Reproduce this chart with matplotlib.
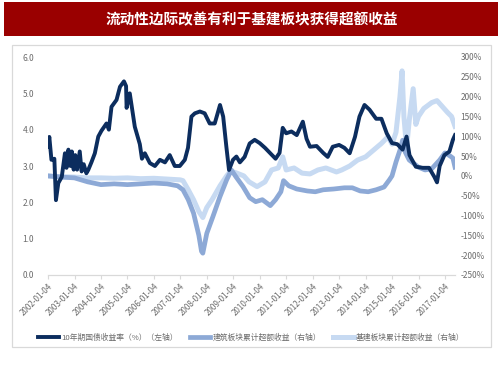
import matplotlib
matplotlib.use("Agg")
import matplotlib.pyplot as plt
from matplotlib.patches import Rectangle

plt.rcParams['font.family'] = ['Noto Sans CJK SC', 'DejaVu Sans']

title = "流动性边际改善有利于基建板块获得超额收益"
legend_labels = ["10年期国债收益率（%）（左轴）", "建筑板块累计超额收益（右轴）", "基建板块累计超额收益（右轴）"]
year_ticks = list(range(2002, 2018))
year_tick_labels = [f"{y}-01-04" for y in year_ticks]
left_ticks = [0, 1, 2, 3, 4, 5, 6]
right_ticks = [-250, -200, -150, -100, -50, 0, 50, 100, 150, 200, 250, 300]

# 10-year government bond yield (%), x in decimal years
yield_t = [2002.00, 2002.05, 2002.13, 2002.24, 2002.30, 2002.39, 2002.52, 2002.64, 2002.70, 2002.77,
           2002.85, 2002.90, 2002.97, 2003.03, 2003.10, 2003.20, 2003.27, 2003.35, 2003.45, 2003.52,
           2003.64, 2003.77, 2003.90, 2004.02,
           2004.21, 2004.30, 2004.40, 2004.59, 2004.72, 2004.87, 2004.95, 2004.97, 2005.09, 2005.28,
           2005.47, 2005.55, 2005.66, 2005.85, 2006.04, 2006.23, 2006.42, 2006.60, 2006.79, 2006.98,
           2007.17, 2007.29, 2007.42, 2007.55, 2007.74, 2007.92, 2008.11, 2008.30, 2008.43, 2008.50,
           2008.62, 2008.74, 2008.84, 2008.99, 2009.12, 2009.25, 2009.43, 2009.62, 2009.81, 2010.00,
           2010.20, 2010.40, 2010.60, 2010.75, 2010.87, 2011.00, 2011.20, 2011.40, 2011.63, 2011.77,
           2011.90, 2012.15, 2012.40, 2012.57, 2012.76, 2013.00, 2013.20, 2013.40, 2013.60, 2013.77,
           2013.96, 2014.15, 2014.40, 2014.60, 2014.80, 2015.00, 2015.20, 2015.40, 2015.55, 2015.66,
           2015.90, 2016.16, 2016.40, 2016.60, 2016.70, 2016.80, 2016.98, 2017.17, 2017.30, 2017.38]
yield_v = [3.53, 3.80, 3.17, 3.20, 2.06, 2.53, 2.70, 3.35, 2.95, 3.45,
           3.00, 3.40, 2.90, 3.30, 2.90, 3.40, 2.85, 3.05, 2.80, 2.89,
           3.10, 3.35, 3.81, 3.97,
           4.17, 4.00, 4.63, 4.82, 5.18, 5.33, 5.20, 4.60, 5.00, 4.08,
           3.60, 3.20, 3.35, 3.08, 3.00, 3.17, 3.10, 3.30, 3.00, 3.00,
           3.17, 3.50, 4.36, 4.45, 4.50, 4.45, 4.17, 4.17, 4.50, 4.68,
           4.36, 3.53, 2.89, 3.17, 3.26, 3.10, 3.25, 3.62, 3.72, 3.63,
           3.50, 3.35, 3.20, 3.36, 4.05, 3.90, 3.95, 3.85, 4.22, 3.75,
           3.53, 3.55, 3.36, 3.25, 3.53, 3.58, 3.50, 3.35, 3.80, 4.36,
           4.68, 4.55, 4.30, 4.30, 3.90, 3.63, 3.60, 3.45, 3.81, 3.30,
           2.98, 2.95, 2.95, 2.70, 2.55, 3.00, 3.30, 3.40, 3.72, 3.85]

# construction sector cumulative excess return (%)
jz_t = [2002.0, 2002.5, 2003.0, 2003.5, 2004.0, 2004.5, 2005.0, 2005.5, 2006.0, 2006.5,
        2006.9, 2007.1, 2007.3, 2007.5, 2007.7, 2007.8, 2007.85, 2008.0, 2008.23, 2008.5,
        2008.75, 2008.93, 2009.1, 2009.37, 2009.62, 2009.85, 2010.1, 2010.4, 2010.6, 2010.8,
        2010.9, 2011.1, 2011.4, 2011.8, 2012.1, 2012.4, 2012.8, 2013.2, 2013.5, 2013.8,
        2014.1, 2014.4, 2014.7, 2014.9, 2015.0, 2015.15, 2015.3, 2015.4, 2015.5, 2015.65,
        2015.85, 2016.0, 2016.25, 2016.5, 2016.8, 2017.0, 2017.2, 2017.3, 2017.38]
jz_v = [0, -3, -5, -15, -22, -20, -22, -20, -18, -20,
        -25, -35, -60, -94, -150, -190, -195, -145, -103, -52,
        -10, 15, -2, -27, -55, -65, -60, -75, -60, -40,
        -12, -25, -33, -38, -40, -35, -33, -30, -30, -38,
        -40, -35, -28, -10, 0, 35, 65, 90, 60, 40,
        30, 22, 15, 18, 40, 58, 50, 45, 22]

# infrastructure sector cumulative excess return (%)
jj_t = [2002.0, 2002.5, 2003.0, 2003.5, 2004.0, 2004.5, 2005.0, 2005.5, 2006.0, 2006.5,
        2007.0, 2007.1, 2007.3, 2007.5, 2007.7, 2007.85, 2008.0, 2008.2, 2008.5, 2008.75,
        2008.9, 2009.1, 2009.4, 2009.6, 2009.9, 2010.2, 2010.45, 2010.7, 2010.87, 2011.0,
        2011.3, 2011.6, 2011.9, 2012.2, 2012.5, 2012.9, 2013.1, 2013.4, 2013.7, 2014.0,
        2014.3, 2014.6, 2014.85, 2015.0, 2015.15, 2015.3, 2015.38, 2015.45, 2015.55, 2015.65,
        2015.8, 2015.9, 2016.0, 2016.2, 2016.5, 2016.7, 2016.9, 2017.1, 2017.25, 2017.38]
jj_v = [0, -2, -3, -5, -5, -6, -5, -7, -6, -8,
        -10, -12, -35, -60, -90, -105, -80, -60, -25, 0,
        12, 8, 0, -15, -27, -15, 15, 20, 48, 15,
        20, 7, 5, 15, 20, 10, 15, 25, 40, 48,
        65, 82, 99, 80, 110, 200, 265, 150, 70, 140,
        220, 130, 150, 170, 185, 190, 175, 160, 150, 125]

dark = '#0C2D5E'
medium = '#8DA9D6'
light = '#C7DAF2'
gray_txt = '#6B6B6B'
axis_gray = '#D9D9D9'

fig = plt.figure(figsize=(5.03, 3.78), dpi=100)
fig.patch.set_facecolor('white')

# title bar
fig.patches.append(Rectangle((4 / 503, 1 - 36 / 378), 494 / 503, 34 / 378,
                             transform=fig.transFigure, facecolor='#9A0000', edgecolor='none', zorder=0))
fig.text(0.5, 1 - 19 / 378, title, color='white', fontsize=10.5, fontweight='bold',
         ha='center', va='center')
# panel border
fig.patches.append(Rectangle((11.5 / 503, 1 - 347 / 378), 479.5 / 503, 302 / 378,
                             transform=fig.transFigure, facecolor='none', edgecolor=axis_gray, lw=0.9, zorder=0))

ax = fig.add_axes([48 / 503, 1 - 275 / 378, 407 / 503, 218 / 378])
ax2 = ax.twinx()

l1, = ax.plot(yield_t, yield_v, color=dark, lw=2.8, solid_joinstyle='round', zorder=3)
l2, = ax2.plot(jz_t, jz_v, color=medium, lw=3.4, solid_joinstyle='round', zorder=2)
l3, = ax2.plot(jj_t, jj_v, color=light, lw=3.6, solid_joinstyle='round', zorder=1)

ax.set_xlim(2002.0, 2017.38)
ax.set_ylim(0, 6)
ax2.set_ylim(-250, 300)

ax.set_yticks(left_ticks)
ax.set_yticklabels([f"{v:.1f}" for v in left_ticks])
ax2.set_yticks(right_ticks)
ax2.set_yticklabels([f"{v}%" for v in right_ticks])

ax.set_xticks([y + 0.003 for y in year_ticks])
ax.set_xticklabels(year_tick_labels, rotation=45, ha='right', rotation_mode='anchor')

for a in (ax, ax2):
    for s in ('top', 'left', 'right'):
        a.spines[s].set_visible(False)
    a.spines['bottom'].set_color(axis_gray)
    a.tick_params(axis='y', length=0, labelsize=6, labelcolor=gray_txt)
ax.tick_params(axis='y', pad=10)
ax2.tick_params(axis='y', pad=4)
ax.tick_params(axis='x', length=3, color=axis_gray, labelsize=5.8, labelcolor=gray_txt, pad=2)

# put the yield line on top of the twin axes
ax.set_zorder(ax2.get_zorder() + 1)
ax.patch.set_visible(False)

fig.legend([l1, l2, l3], legend_labels, loc='center', bbox_to_anchor=(0.5, 1 - 338 / 378),
           ncol=3, frameon=False, fontsize=5.6, handlelength=2.6, columnspacing=1.6,
           handletextpad=0.3, labelcolor=gray_txt)

fig.savefig('out.png', dpi=100, facecolor='white')
